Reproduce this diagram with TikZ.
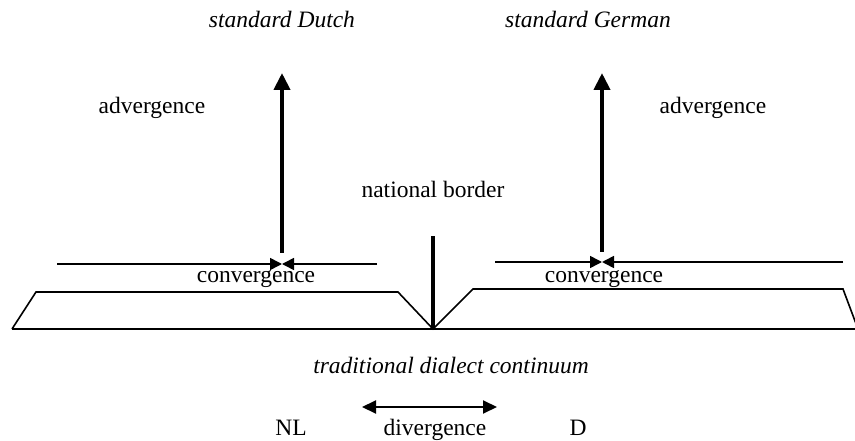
\documentclass[tikz,border=0pt]{standalone}
\usepackage{fontspec}
\setmainfont{Liberation Serif}
\usetikzlibrary{arrows.meta}
\begin{document}
\begin{tikzpicture}[x=1pt,y={(0pt,-1pt)},
  lbl/.style={font=\fontsize{23.5}{28}\selectfont, inner sep=0pt, anchor=base},
  ilbl/.style={lbl, font=\fontsize{23.5}{28}\selectfont\itshape},
  thin line/.style={line width=1.6pt},
  bigarrow/.style={line width=4pt, -{Triangle[length=17pt,width=16pt]}},
  conv/.style={line width=1.6pt, -{Triangle[length=12pt,width=12pt]}},
  border/.style={line width=4pt},
  div/.style={line width=2pt, {Triangle[length=14pt,width=13pt]}-{Triangle[length=14pt,width=13pt]}}]
\useasboundingbox (0,0) rectangle (855,441);
% base outline
\coordinate (bl) at (12,329);
\coordinate (br) at (858,329);
\coordinate (m) at (433,329);
\coordinate (lt1) at (36,292);
\coordinate (lt2) at (398,292);
\coordinate (rt1) at (473,289);
\coordinate (rt2) at (843,289);
\draw[thin line] (bl) -- (br);
\draw[thin line] (bl) -- (lt1) -- (lt2) -- (m) -- (rt1) -- (rt2) -- (br);
% national border
\coordinate (nbtop) at (433,236);
\draw[border] (m) -- (nbtop);
% convergence lines
\coordinate (cl1) at (57,264);
\coordinate (cl2) at (377,264);
\coordinate (clm) at (282,264);
\coordinate (cr1) at (495,262);
\coordinate (cr2) at (843,262);
\coordinate (crm) at (602,262);
\draw[conv] (cl1) -- (clm);
\draw[conv] (cl2) -- (clm);
\draw[conv] (cr1) -- (crm);
\draw[conv] (cr2) -- (crm);
% vertical arrows
\coordinate (al0) at (282,253);
\coordinate (al1) at (282,73);
\coordinate (ar0) at (602,252);
\coordinate (ar1) at (602,73);
\draw[bigarrow] (al0) -- (al1);
\draw[bigarrow] (ar0) -- (ar1);
% texts
\node[ilbl] (sd) at (282,28) {standard Dutch};
\node[ilbl] (sg) at (588,28) {standard German};
\node[lbl] (advl) at (152,114) {advergence};
\node[lbl] (advr) at (713,114) {advergence};
\node[lbl] (nb) at (433,197) {national border};
\node[lbl] (convl) at (256,283) {convergence};
\node[lbl] (convr) at (604,283) {convergence};
\node[ilbl] (tdc) at (451,373) {traditional dialect continuum};
\node[lbl] (nl) at (291,435) {NL};
\node[lbl] (dv) at (435,435) {divergence};
\node[lbl] (d) at (578,435) {D};
% divergence arrow
\coordinate (dv1) at (362,407);
\coordinate (dv2) at (497,407);
\draw[div] (dv1) -- (dv2);
\end{tikzpicture}
\end{document}
